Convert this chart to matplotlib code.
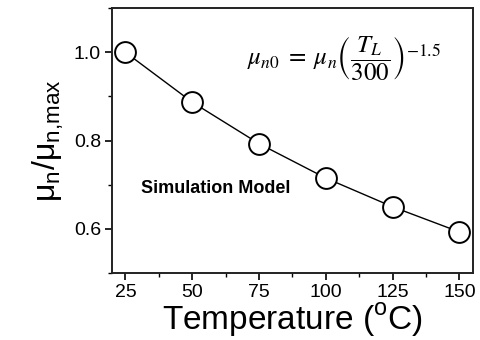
import numpy as np
import matplotlib.pyplot as plt
from matplotlib.ticker import MultipleLocator

plt.rcParams['font.family'] = ['Liberation Sans', 'DejaVu Sans']

# data
temperature = [25, 50, 75, 100, 125, 150]
mobility_ratio = [1.0, 0.887, 0.793, 0.715, 0.650, 0.593]

fig = plt.figure(figsize=(4.81, 3.40), dpi=100)
ax = fig.add_axes([0.233, 0.197, 0.75, 0.779])

ax.plot(temperature, mobility_ratio, color='black', lw=1.0, marker='o',
        ms=15, mfc='white', mec='black', mew=1.4)

ax.set_xlim(20, 155)
ax.set_ylim(0.5, 1.1)
ax.set_xticks([25, 50, 75, 100, 125, 150])
ax.set_yticks([0.6, 0.8, 1.0])
ax.xaxis.set_minor_locator(MultipleLocator(12.5))
ax.yaxis.set_minor_locator(MultipleLocator(0.1))

ax.tick_params(which='major', direction='out', length=5, width=1.2,
               labelsize=14, pad=3)
ax.tick_params(which='minor', direction='out', length=3, width=1.0)
for s in ax.spines.values():
    s.set_linewidth(1.4)
    s.set_color('#222222')

ax.set_xlabel('Temperature ($^\\mathregular{o}$C)', fontsize=24, labelpad=0)
ax.set_ylabel('μ$_\\mathregular{n}$/μ$_\\mathregular{n{,}max}$', fontsize=23,
              labelpad=6)

ax.text(0.08, 0.32, 'Simulation Model', transform=ax.transAxes,
        fontsize=13, fontweight='bold', va='center', ha='left')

ax.text(0.375, 0.81,
        r'$\mu_{n0} \;=\; \mu_n \left(\dfrac{T_L}{300}\right)^{-1.5}$',
        transform=ax.transAxes, fontsize=18, va='center', ha='left',
        math_fontfamily='stix')

fig.savefig('out.png', dpi=100)
